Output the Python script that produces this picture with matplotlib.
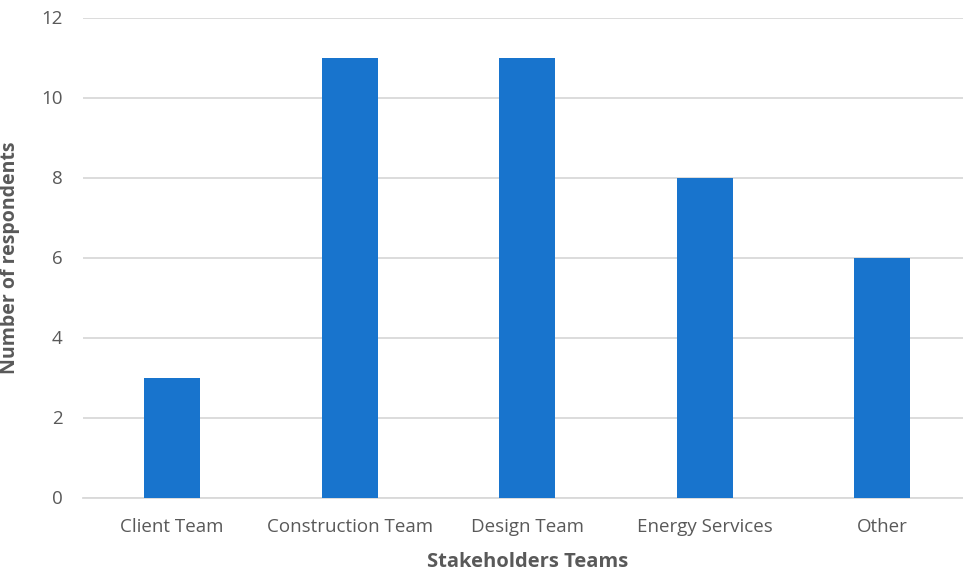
import matplotlib
matplotlib.use("Agg")
import matplotlib.pyplot as plt

teams = ["Client Team", "Construction Team", "Design Team", "Energy Services", "Other"]
respondents = [3, 11, 11, 8, 6]
y_ticks = [0, 2, 4, 6, 8, 10, 12]

bar_color = "#1874CD"
text_color = "#595959"
grid_color = "#D9D9D9"

plt.rcParams["font.family"] = ["Open Sans", "DejaVu Sans"]

W, H = 963, 572
fig = plt.figure(figsize=(W / 100, H / 100), dpi=100)
left, right = 83.2, 971.2
top, bottom = 17.5, 497.5
ax = fig.add_axes([left / W, 1 - bottom / H, (right - left) / W, (bottom - top) / H])

x = range(len(teams))
ax.bar(x, respondents, width=0.315, color=bar_color, zorder=3)

ax.set_xlim(-0.5, len(teams) - 0.5)
ax.set_ylim(0, 12)
ax.set_yticks(y_ticks)
ax.set_xticks(list(x))
ax.set_xticklabels(teams)
ax.yaxis.grid(True, color=grid_color, linewidth=1.3, zorder=0)
ax.set_axisbelow(True)

for s in ["top", "right", "left"]:
    ax.spines[s].set_visible(False)
ax.spines["bottom"].set_color(grid_color)
ax.spines["bottom"].set_linewidth(1.3)
ax.tick_params(axis="both", length=0, colors=text_color, labelsize=13.5)
ax.tick_params(axis="x", pad=15)
ax.tick_params(axis="y", pad=15)

ax.set_xlabel("Stakeholders Teams", fontsize=14.5, fontweight="bold", color=text_color, labelpad=11)
ax.set_ylabel("Number of respondents", fontsize=14, fontweight="bold", color=text_color)
ax.yaxis.set_label_coords((20 - left) / (right - left), 0.5)

fig.savefig("out.png", dpi=100)
